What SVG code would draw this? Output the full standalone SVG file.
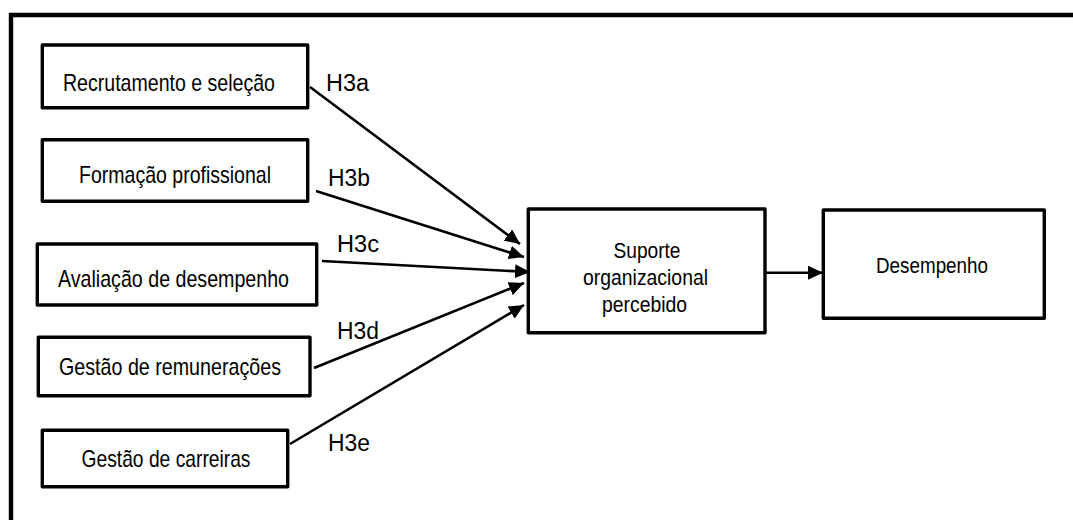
<svg xmlns="http://www.w3.org/2000/svg" width="1073" height="520" viewBox="0 0 1073 520">
  <style>
    .box { fill: #ffffff; stroke: #000000; stroke-width: 3.4; stroke-linejoin: round; }
    .frame { fill: none; stroke: #000000; stroke-width: 4.4; }
    .txt { font-family: "Liberation Sans", Arial, sans-serif; font-size: 24px; fill: #000000; text-anchor: middle; }
    .txt-r { font-size: 22px; }
    .lbl { font-family: "Liberation Sans", Arial, sans-serif; font-size: 23px; fill: #000000; }
    .edge { fill: none; stroke: #000000; stroke-width: 2.6; }
  </style>
  <defs>
    <marker id="arrow" viewBox="0 0 15 14" markerUnits="userSpaceOnUse" markerWidth="15" markerHeight="14" refX="15" refY="7" orient="auto">
      <path d="M0,0 L15,7 L0,14 Z" fill="#000000"/>
    </marker>
  </defs>

  <rect width="1073" height="520" fill="#ffffff"/>
  <!-- outer frame, open to the right and bottom -->
  <path class="frame" d="M11,520 L11,15 L1073,15"/>

  <g id="connectors">
    <line class="edge" x1="310" y1="87" x2="520" y2="244" marker-end="url(#arrow)"/>
    <line class="edge" x1="316" y1="191" x2="524" y2="257" marker-end="url(#arrow)"/>
    <line class="edge" x1="322" y1="261" x2="530" y2="272" marker-end="url(#arrow)"/>
    <line class="edge" x1="314" y1="368" x2="524" y2="283" marker-end="url(#arrow)"/>
    <line class="edge" x1="290" y1="444" x2="524" y2="305" marker-end="url(#arrow)"/>
    <line class="edge" x1="766" y1="272.7" x2="823" y2="272.7" marker-end="url(#arrow)"/>
    <text class="lbl" x="326" y="90.7" textLength="43" lengthAdjust="spacingAndGlyphs">H3a</text>
    <text class="lbl" x="328" y="185.7" textLength="42" lengthAdjust="spacingAndGlyphs">H3b</text>
    <text class="lbl" x="337" y="251.7" textLength="42" lengthAdjust="spacingAndGlyphs">H3c</text>
    <text class="lbl" x="337" y="339.3" textLength="42" lengthAdjust="spacingAndGlyphs">H3d</text>
    <text class="lbl" x="328" y="451" textLength="42" lengthAdjust="spacingAndGlyphs">H3e</text>
  </g>

  <g id="recrutamento">
    <rect class="box" x="42.3" y="45" width="265.4" height="62.7"/>
    <text class="txt" x="169" y="90.7" textLength="212" lengthAdjust="spacingAndGlyphs">Recrutamento e seleção</text>
  </g>
  <g id="formacao">
    <rect class="box" x="42.3" y="139.7" width="265.4" height="61.6"/>
    <text class="txt" x="175" y="183.3" textLength="192" lengthAdjust="spacingAndGlyphs">Formação profissional</text>
  </g>
  <g id="avaliacao">
    <rect class="box" x="37.3" y="244" width="279.4" height="61"/>
    <text class="txt" x="173.5" y="287.3" textLength="231" lengthAdjust="spacingAndGlyphs">Avaliação de desempenho</text>
  </g>
  <g id="remuneracoes">
    <rect class="box" x="38.3" y="337.3" width="271.7" height="58.4"/>
    <text class="txt" x="170" y="375" textLength="222" lengthAdjust="spacingAndGlyphs">Gestão de remunerações</text>
  </g>
  <g id="carreiras">
    <rect class="box" x="42.3" y="430.3" width="245.4" height="56.4"/>
    <text class="txt" x="166" y="467.3" textLength="169" lengthAdjust="spacingAndGlyphs">Gestão de carreiras</text>
  </g>
  <g id="suporte">
    <rect class="box" x="528.3" y="209" width="236.7" height="123.7"/>
    <text class="txt txt-r" x="647" y="258.3" textLength="67" lengthAdjust="spacingAndGlyphs">Suporte</text>
    <text class="txt txt-r" x="645.5" y="285" textLength="125" lengthAdjust="spacingAndGlyphs">organizacional</text>
    <text class="txt txt-r" x="644.5" y="311.7" textLength="85" lengthAdjust="spacingAndGlyphs">percebido</text>
  </g>
  <g id="desempenho">
    <rect class="box" x="823.3" y="210" width="221" height="108.3"/>
    <text class="txt txt-r" x="932" y="272.7" textLength="112" lengthAdjust="spacingAndGlyphs">Desempenho</text>
  </g>
</svg>
